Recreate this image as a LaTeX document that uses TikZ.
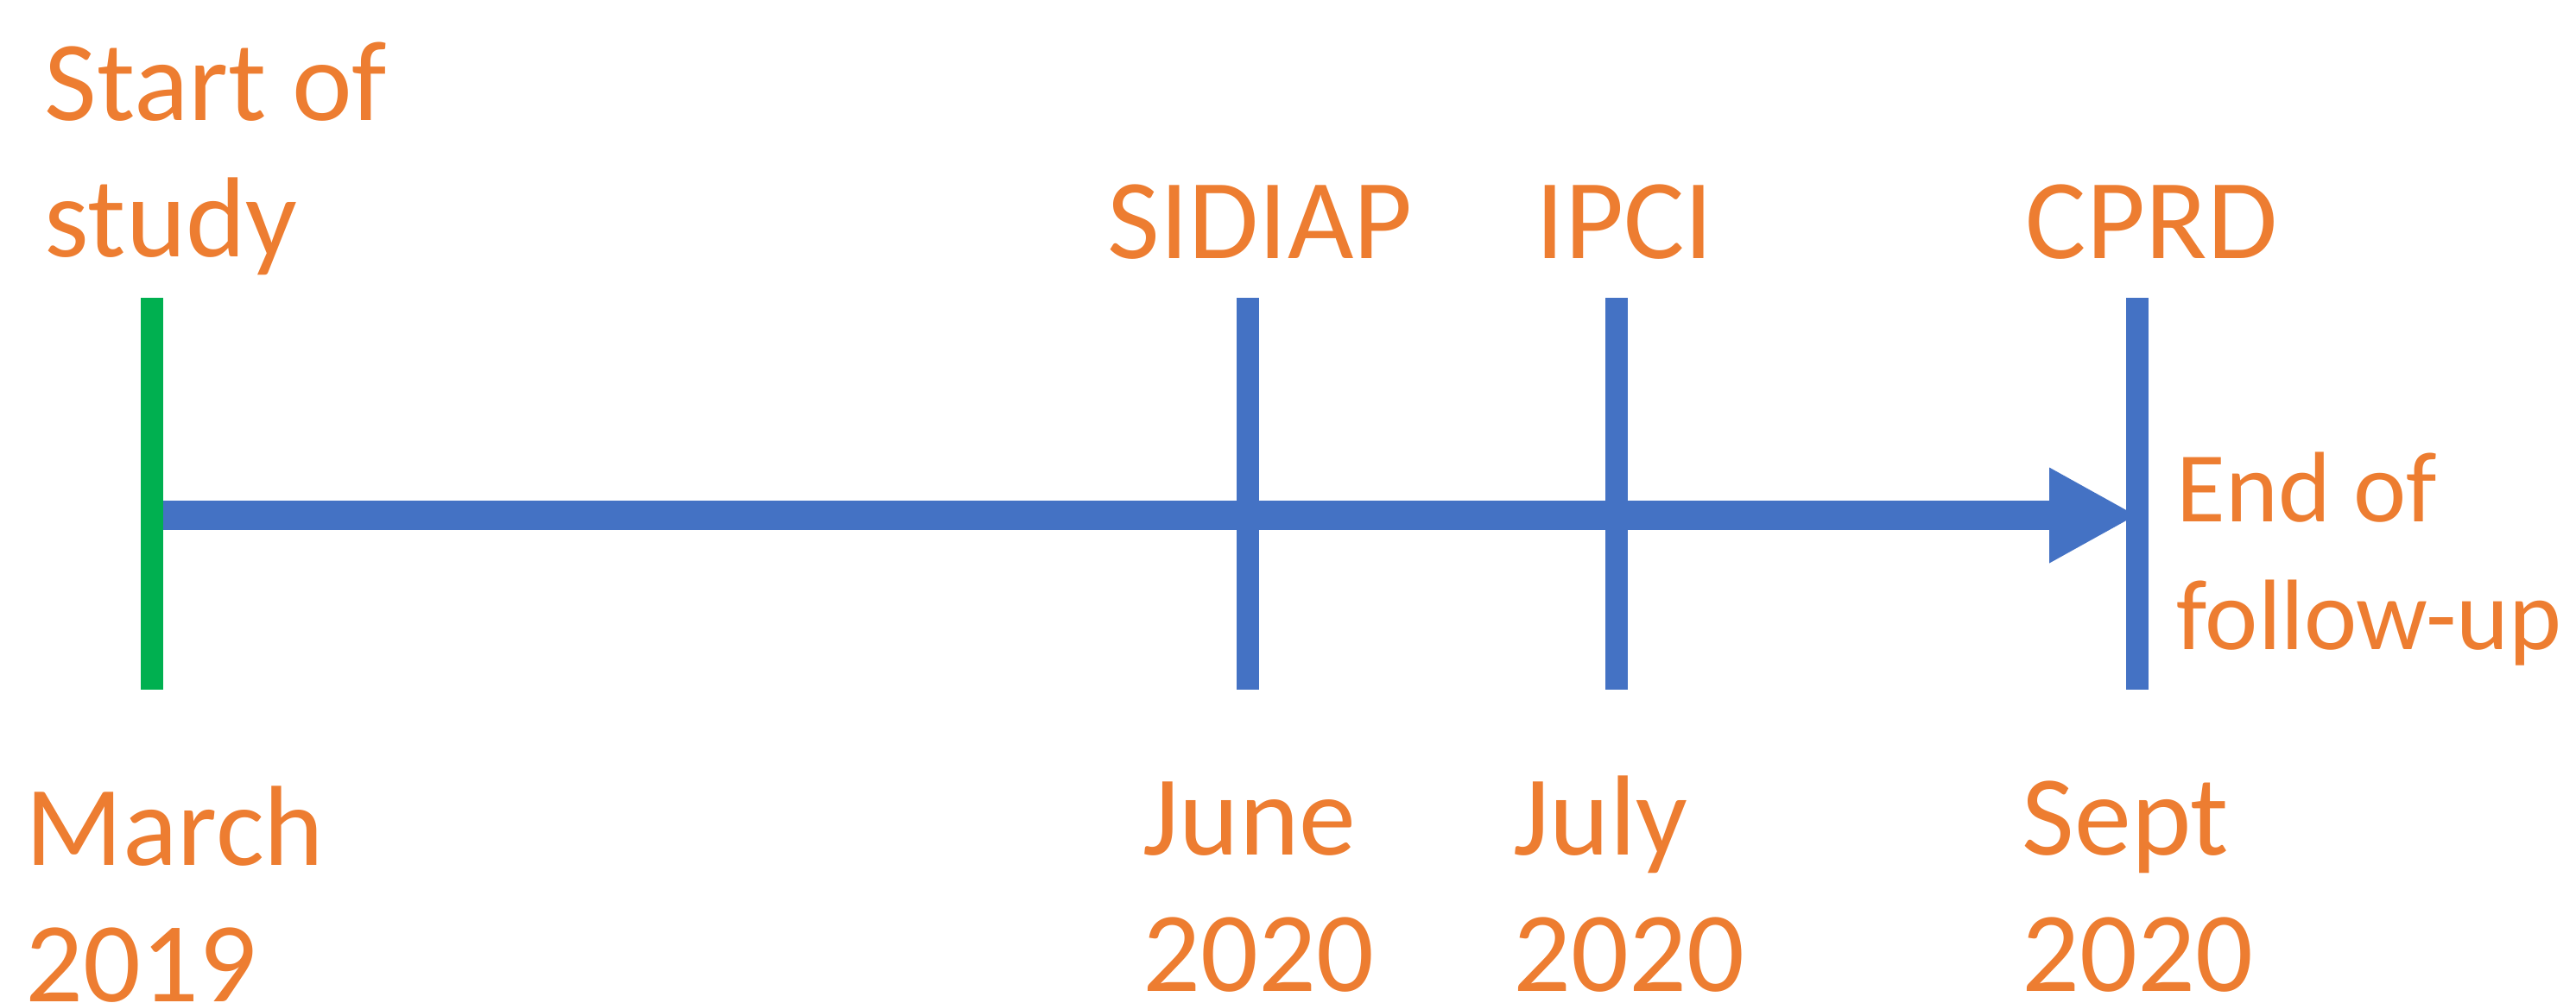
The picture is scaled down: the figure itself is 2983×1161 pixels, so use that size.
\documentclass[tikz,border=0pt]{standalone}
\usepackage{fontspec}
\setmainfont{Carlito}
\usetikzlibrary{arrows.meta}

\definecolor{tlorange}{RGB}{237,125,49}
\definecolor{tlblue}{RGB}{68,114,196}
\definecolor{tlgreen}{RGB}{0,176,80}

\tikzset{
  txtlbl/.style={anchor=base west, inner sep=0pt, align=left, text=tlorange, font=\fontsize{33}{39.5}\selectfont},
  endlbl/.style={txtlbl, font=\fontsize{29}{37}\selectfont},
  tickbar/.style={draw=tlblue, line width=6.5pt},
}

\begin{document}
\begin{tikzpicture}[x=0.25pt,y=0.25pt,yscale=-1,xscale=1]
\useasboundingbox (0,0) rectangle (2983,1161);

% Tick ends
\coordinate (starttop) at (176,345);
\coordinate (startbot) at (176,799);
\coordinate (sidtop) at (1445,345);
\coordinate (sidbot) at (1445,799);
\coordinate (ipctop) at (1872,345);
\coordinate (ipcbot) at (1872,799);
\coordinate (cprtop) at (2475,345);
\coordinate (cprbot) at (2475,799);
\coordinate (linestart) at (176,597);
\coordinate (lineend) at (2475,597);

%Shape: Timeline arrow
\draw [draw=tlblue, line width=8.5pt, -{Triangle[length=25.5pt, width=25.75pt]}] (linestart) -- (lineend);

%Shape: Ticks
\draw [tickbar] (sidtop) -- (sidbot);
\draw [tickbar] (ipctop) -- (ipcbot);
\draw [tickbar] (cprtop) -- (cprbot);
\draw [tickbar, draw=tlgreen] (starttop) -- (startbot);

% Text Node (anchored at the last line)
\node [txtlbl] (startlbl) at (51,297) {Start of\\study};
\node [txtlbl] (sidlbl) at (1282,299) {SIDIAP};
\node [txtlbl] (ipclbl) at (1778,299) {IPCI};
\node [txtlbl] (cprlbl) at (2345,299) {CPRD};
\node [endlbl] (endlbl) at (2520,752) {End of\\follow-up};

% Text Node
\node [txtlbl] (marlbl) at (29,1160) {March\\2019};
\node [txtlbl] (junlbl) at (1323,1148) {June\\2020};
\node [txtlbl] (jullbl) at (1752,1148) {July\\2020};
\node [txtlbl] (seplbl) at (2341,1148) {Sept\\2020};

\end{tikzpicture}
\end{document}
